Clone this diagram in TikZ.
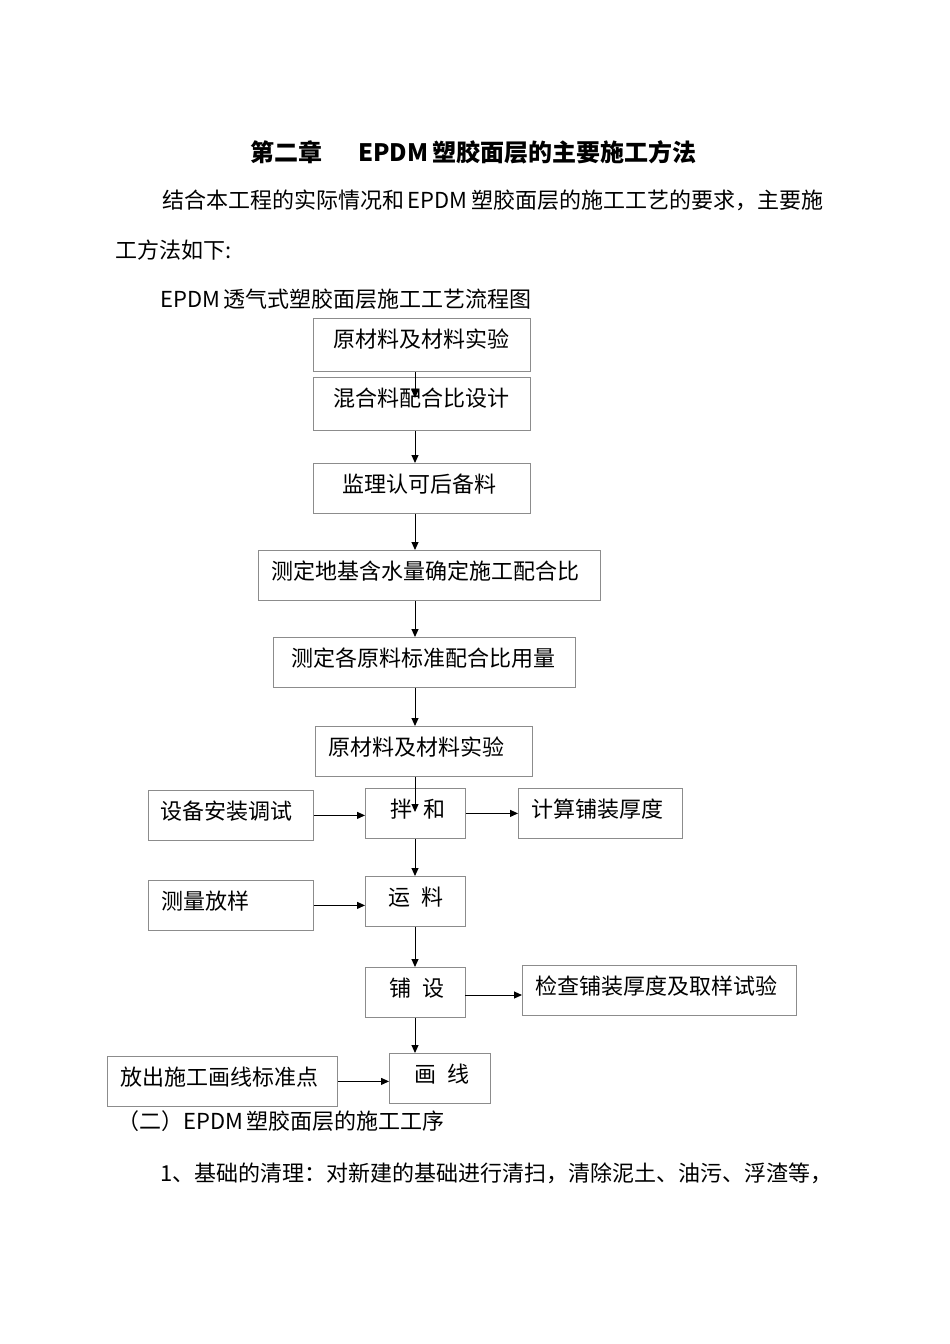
\documentclass[tikz,border=0pt]{standalone}
\usepackage{fontspec}
\setmainfont{Noto Sans CJK SC}
\usepackage{tikz}
\usetikzlibrary{arrows.meta}

\begin{document}
\begin{tikzpicture}[x = 1pt, y = -1pt]

\tikzstyle{stage}=[draw=black!45, line width=0.8pt, inner ysep=0pt, align=left, anchor=north west, text height=29pt, text depth=21pt, font=\fontsize{22pt}{26pt}\selectfont]
\tikzstyle{stage_tall}=[stage, text depth=24pt]
\tikzstyle{body_text}=[anchor=base west, inner sep=0pt, font=\fontsize{22pt}{26pt}\selectfont]
\tikzstyle{flow_arrow}=[-{Triangle[length=8pt, width=7pt]}, line width=1pt, color=black]

\fill[white] (0, 0) rectangle (950, 1344);
\useasboundingbox (0, 0) rectangle (950, 1344);

\coordinate (ax) at (415, 0);
\coordinate (p2) at (415, 398);
\coordinate (p7) at (415, 812);
\coordinate (q12) at (465, 995);

\path
(250, 161) node[body_text, font=\fontsize{24pt}{28pt}\selectfont\bfseries] (title) {第二章\hspace{36pt}EPDM\,塑胶面层的主要施工方法}
(162, 208.5) node[body_text] (intro1) {结合本工程的实际情况和\,EPDM\,塑胶面层的施工工艺的要求，主要施}
(115, 258.5) node[body_text] (intro2) {工方法如下:}
(160, 307.5) node[body_text] (caption) {EPDM\,透气式塑胶面层施工工艺流程图}
(117, 1129.5) node[body_text] (sec2) {（二）EPDM\,塑胶面层的施工工序}
(160, 1181.5) node[body_text] (item1) {1、基础的清理：对新建的基础进行清扫，清除泥土、油污、浮渣等，};

% main column
\path
(313, 318) node[stage_tall, text width=177pt, inner xsep=20pt] (s1) {原材料及材料实验}
(313, 377) node[stage_tall, text width=177pt, inner xsep=20pt] (s2) {混合料配合比设计}
(313, 463) node[stage, text width=159pt, inner xsep=29pt] (s3) {监理认可后备料}
(258, 550) node[stage, text width=316pt, inner xsep=13pt] (s4) {测定地基含水量确定施工配合比}
(273, 637) node[stage, text width=266pt, inner xsep=18pt] (s5) {测定各原料标准配合比用量}
(315, 726) node[stage, text width=191pt, inner xsep=13pt] (s6) {原材料及材料实验}
(365, 788) node[stage, text width=50pt, inner xsep=25pt] (s7) {\mbox{拌\kern0.5em 和}}
(365, 876) node[stage, text width=54pt, inner xsep=23pt] (s11) {\mbox{运\kern0.5em 料}}
(365, 967) node[stage, text width=52pt, inner xsep=24pt] (s12) {\mbox{铺\kern0.5em 设}}
(389, 1053) node[stage, text width=51pt, inner xsep=25pt] (s15) {\mbox{画\kern0.5em 线}};

% side boxes
\path
(148, 790) node[stage, text width=141pt, inner xsep=12pt] (s8) {设备安装调试}
(518, 788) node[stage, text width=138pt, inner xsep=13pt] (s9) {计算铺装厚度}
(148, 880) node[stage, text width=139pt, inner xsep=13pt] (s10) {测量放样}
(522, 965) node[stage, text width=248pt, inner xsep=13pt] (s13) {检查铺装厚度及取样试验}
(107, 1056) node[stage, text width=204pt, inner xsep=13pt] (s14) {放出施工画线标准点};

%vertical arrows
\draw[flow_arrow] (s1.south -| ax) to (p2);
\draw[flow_arrow] (s2.south -| ax) to (s3.north -| ax);
\draw[flow_arrow] (s3.south -| ax) to (s4.north -| ax);
\draw[flow_arrow] (s4.south -| ax) to (s5.north -| ax);
\draw[flow_arrow] (s5.south -| ax) to (s6.north -| ax);
\draw[flow_arrow] (s6.south -| ax) to (p7);
\draw[flow_arrow] (s7.south -| ax) to (s11.north -| ax);
\draw[flow_arrow] (s11.south -| ax) to (s12.north -| ax);
\draw[flow_arrow] (s12.south -| ax) to (s15.north -| ax);

%horizontal arrows
\draw[flow_arrow] (s8.east) to (s8.east -| s7.west);
\draw[flow_arrow] (s7.east) to (s7.east -| s9.west);
\draw[flow_arrow] (s10.east) to (s10.east -| s11.west);
\draw[flow_arrow] (q12) to (q12 -| s13.west);
\draw[flow_arrow] (s14.east) to (s14.east -| s15.west);

\end{tikzpicture}
\end{document}
